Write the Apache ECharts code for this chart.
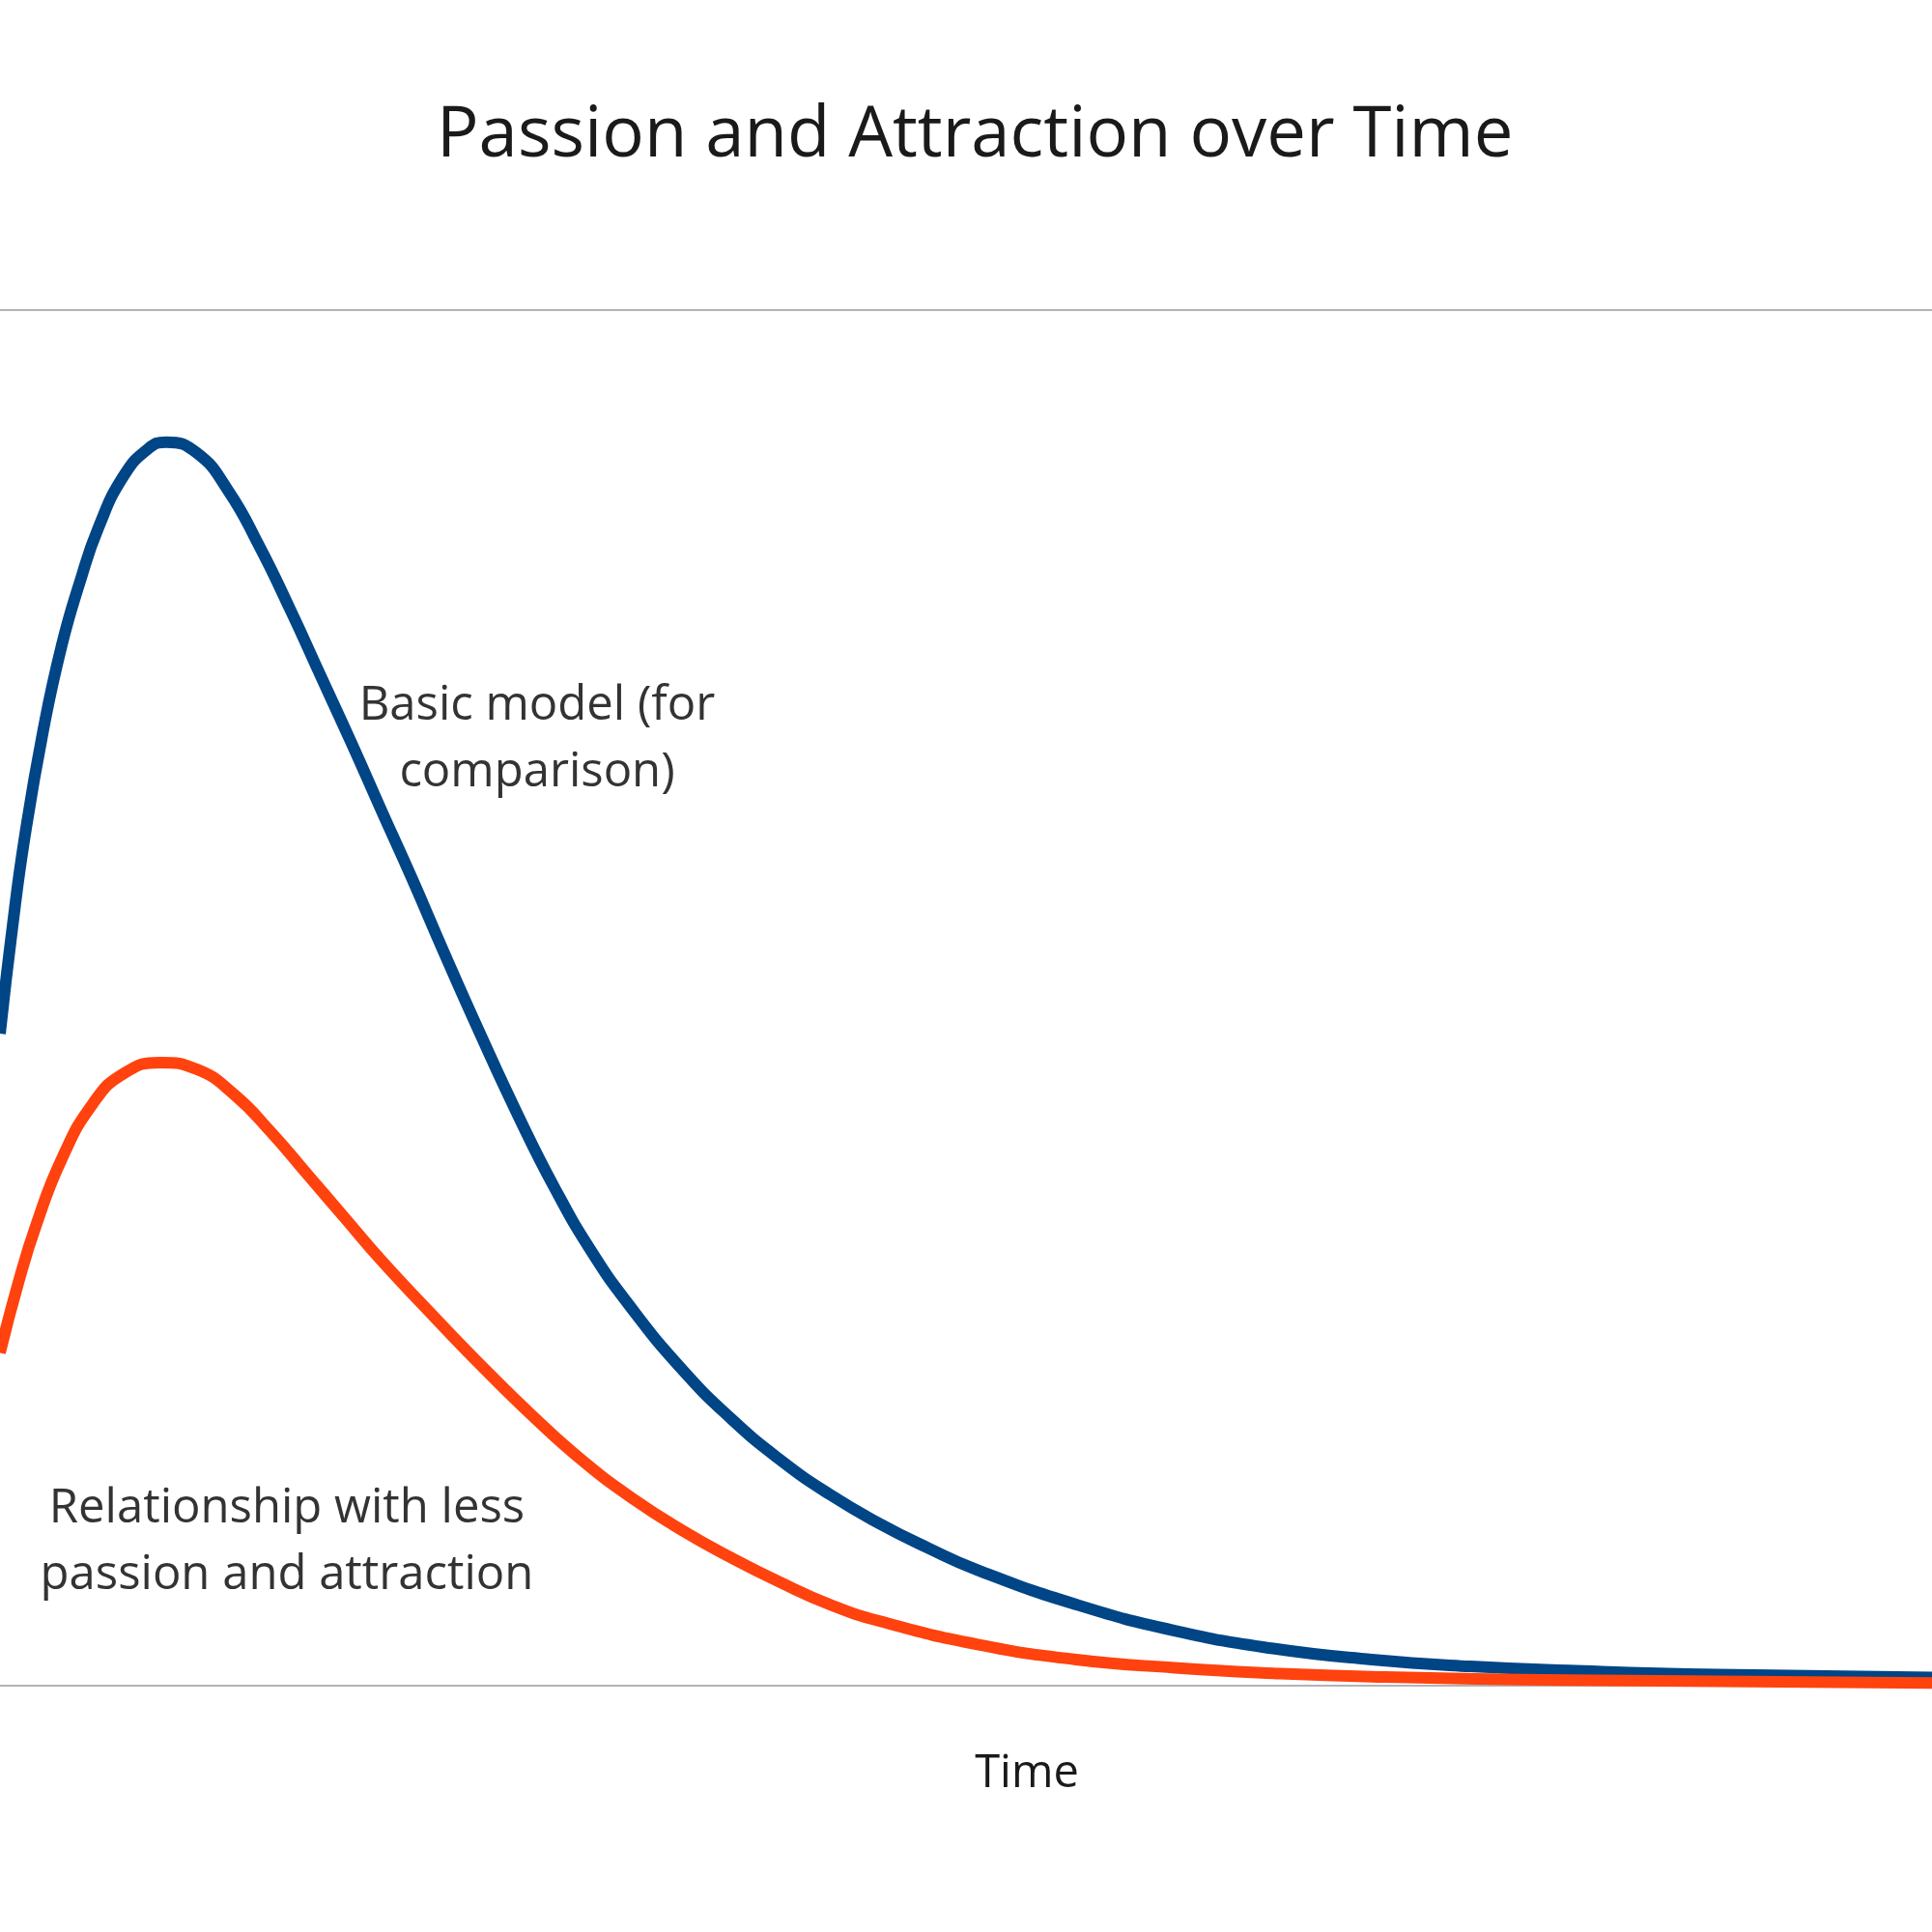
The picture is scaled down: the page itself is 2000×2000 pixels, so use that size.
<!DOCTYPE html>
<html>
<head>
<meta charset="utf-8">
<script src="https://cdn.jsdelivr.net/npm/echarts@6/dist/echarts.min.js"></script>
<style>
  html, body { margin: 0; padding: 0; background: #fff; }
  #chart { width: 2000px; height: 2000px; }
</style>
</head>
<body>
<div id="chart"></div>
<script>
// values (x = time, y = passion level, both 0-100)
var basicX = [0, 0.64, 1.28, 2.23, 3.19, 4.15, 5.1, 6.38, 7.65, 8.6, 10.2, 11.8, 13.4, 15, 16.6, 18.2, 19.75, 21.35, 22.95, 24.85, 26.8, 28.7, 30.6, 32.6, 35.3, 37.85, 40.4, 42.95, 45.5, 48.05, 50.6, 55.7, 60.8, 65.9, 71, 76.1, 81.2, 88.9, 100];
var basicY = [47.4, 55.1, 61.7, 69.4, 75.6, 80.3, 84.2, 87.9, 89.9, 90.4, 89.6, 86.9, 82.9, 78.3, 73.4, 68.5, 63.6, 58.6, 53.4, 47.4, 41.5, 36.2, 31.6, 27.6, 23.0, 19.4, 16.4, 13.9, 11.8, 10.0, 8.4, 5.9, 4.0, 2.7, 1.9, 1.4, 1.1, 0.8, 0.6];
var lessX = [0, 0.95, 1.9, 3.2, 4.8, 6.4, 8.3, 10.2, 12.1, 14.05, 15.95, 17.85, 19.75, 22.55, 25.1, 27.65, 30.2, 32.75, 35.3, 37.85, 40.4, 42.95, 45.5, 50.6, 55.7, 60.8, 65.9, 71, 81.2, 100];
var lessY = [24.2, 29.3, 33.6, 38.3, 42.3, 44.5, 45.3, 44.8, 43.0, 40.2, 37.1, 34.0, 30.9, 26.7, 23.0, 19.5, 16.3, 13.6, 11.3, 9.3, 7.5, 5.9, 4.7, 3.0, 1.9, 1.3, 0.9, 0.65, 0.4, 0.2];

var basicName = "Basic model (for\ncomparison)";
var lessName = "Relationship with less\npassion and attraction";

function pairs(xs, ys) {
  var out = [];
  for (var i = 0; i < xs.length; i++) out.push([xs[i], ys[i]]);
  return out;
}

var chart = echarts.init(document.getElementById("chart"));
var labelStyle = {
  show: true,
  position: "inside",
  fontFamily: "Open Sans",
  fontSize: 49,
  lineHeight: 69,
  color: "#333333",
  align: "center",
  verticalAlign: "middle"
};

var option = {
  backgroundColor: "#fff",
  animation: false,
  title: {
    text: "Passion and Attraction over Time",
    left: 447,
    top: 100,
    textStyle: {
      fontFamily: "Open Sans",
      fontSize: 72.5,
      fontWeight: "normal",
      color: "#1a1a1a"
    }
  },
  grid: {
    left: 0,
    right: 0,
    top: 321,
    bottom: 255
  },
  xAxis: {
    type: "value",
    min: 0,
    max: 100,
    name: "Time",
    nameLocation: "middle",
    nameGap: 68,
    nameTextStyle: {
      fontFamily: "Open Sans",
      fontSize: 47,
      color: "#1a1a1a",
      padding: [0, 0, 0, 126]
    },
    axisLine: { show: true, lineStyle: { color: "#b3b3b3", width: 2 } },
    axisTick: { show: false },
    axisLabel: { show: false },
    splitLine: { show: false }
  },
  yAxis: {
    type: "value",
    min: 0,
    max: 100,
    interval: 100,
    axisLine: { show: false },
    axisTick: { show: false },
    axisLabel: { show: false },
    splitLine: { show: true, lineStyle: { color: "#b3b3b3", width: 2 } }
  },
  series: [
    {
      name: "Basic model",
      type: "line",
      smooth: 0.5,
      showSymbol: false,
      lineStyle: { color: "#004586", width: 12 },
      itemStyle: { color: "#004586" },
      data: pairs(basicX, basicY),
      markPoint: {
        symbol: "circle",
        symbolSize: 0,
        label: labelStyle,
        data: [{ coord: [27.8, 68.8], value: basicName }]
      }
    },
    {
      name: "Less passion",
      type: "line",
      smooth: 0.5,
      showSymbol: false,
      lineStyle: { color: "#ff420e", width: 12 },
      itemStyle: { color: "#ff420e" },
      data: pairs(lessX, lessY),
      markPoint: {
        symbol: "circle",
        symbolSize: 0,
        label: labelStyle,
        data: [{ coord: [14.85, 10.45], value: lessName }]
      }
    }
  ]
};
option && chart.setOption(option);
</script>
</body>
</html>
